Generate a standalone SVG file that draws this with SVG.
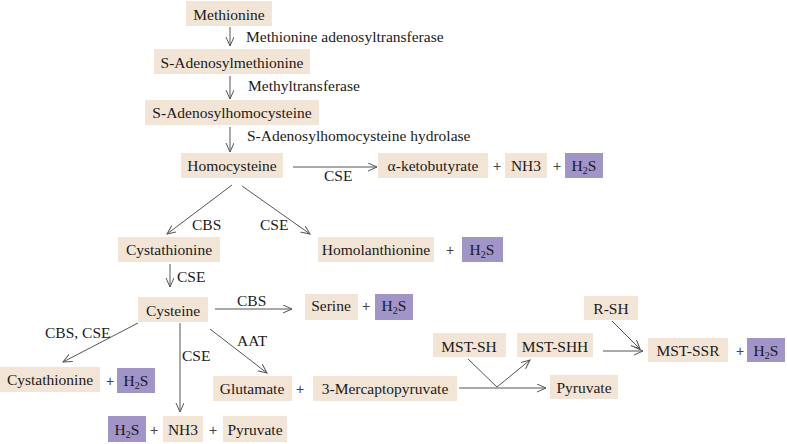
<svg xmlns="http://www.w3.org/2000/svg" width="787" height="444" viewBox="0 0 787 444" font-family="'Liberation Serif', 'Times New Roman', serif">
<defs>
<style>
.b{fill:#F2E5D6}
.p{fill:#A194C8}
text{font-family:'Liberation Serif','Times New Roman',serif;font-size:15.5px;fill:#1a1a1a}
.c{text-anchor:middle}
text.pl{font-family:'Liberation Sans',Arial,sans-serif;font-size:14px;text-anchor:middle;fill:#444}
.e{stroke:#555;stroke-width:1;fill:none;marker-end:url(#a)}
.n{stroke:#555;stroke-width:1;fill:none}
.s{font-size:10px}
</style>
<marker id="a" markerUnits="userSpaceOnUse" markerWidth="10" markerHeight="10" refX="9" refY="4" orient="auto">
<path d="M0,0 L9,4 L0,8" fill="none" stroke="#555" stroke-width="1"/>
</marker>
</defs>
<rect width="787" height="444" fill="#fff"/>

<g id="methionine"><rect class="b" x="186" y="1" width="86" height="25"/><text class="c" x="229" y="20">Methionine</text></g>
<g id="sam"><rect class="b" x="154" y="49" width="156" height="25"/><text class="c" x="232" y="68">S-Adenosylmethionine</text></g>
<g id="sah"><rect class="b" x="145" y="100" width="174" height="25"/><text class="c" x="232" y="118">S-Adenosylhomocysteine</text></g>
<g id="homocysteine"><rect class="b" x="181" y="153" width="102" height="25"/><text class="c" x="232" y="171">Homocysteine</text></g>
<g id="ketobutyrate"><rect class="b" x="378" y="153" width="110" height="25"/><text class="c" x="433" y="171">α-ketobutyrate</text></g>
<g id="nh3a"><rect class="b" x="505" y="153" width="42" height="25"/><text class="c" x="526" y="171">NH3</text></g>
<g id="h2sa"><rect class="p" x="565" y="153" width="38" height="25"/><text class="c" x="584" y="171">H<tspan class="s" dy="3">2</tspan><tspan dy="-3">S</tspan></text></g>

<g id="cystathionine1"><rect class="b" x="118" y="237" width="102" height="25"/><text class="c" x="169" y="255">Cystathionine</text></g>
<g id="homolanthionine"><rect class="b" x="318" y="237" width="116" height="25"/><text class="c" x="376" y="255">Homolanthionine</text></g>
<g id="h2sb"><rect class="p" x="462" y="237" width="41" height="25"/><text class="c" x="482" y="255">H<tspan class="s" dy="3">2</tspan><tspan dy="-3">S</tspan></text></g>

<g id="cysteine"><rect class="b" x="138" y="297" width="70" height="25"/><text class="c" x="173" y="316">Cysteine</text></g>
<g id="serine"><rect class="b" x="305" y="294" width="53" height="26"/><text class="c" x="331" y="311">Serine</text></g>
<g id="h2sc"><rect class="p" x="375" y="294" width="38" height="26"/><text class="c" x="394" y="311">H<tspan class="s" dy="3">2</tspan><tspan dy="-3">S</tspan></text></g>

<g id="cystathionine2"><rect class="b" x="0" y="367" width="100" height="25"/><text class="c" x="50" y="385">Cystathionine</text></g>
<g id="h2sd"><rect class="p" x="117" y="368" width="38" height="25"/><text class="c" x="136" y="386">H<tspan class="s" dy="3">2</tspan><tspan dy="-3">S</tspan></text></g>

<g id="h2se"><rect class="p" x="108" y="416" width="38" height="26"/><text class="c" x="127" y="435">H<tspan class="s" dy="3">2</tspan><tspan dy="-3">S</tspan></text></g>
<g id="nh3b"><rect class="b" x="163" y="416" width="40" height="26"/><text class="c" x="183" y="435">NH3</text></g>
<g id="pyruvate1"><rect class="b" x="223" y="416" width="64" height="26"/><text class="c" x="255" y="435">Pyruvate</text></g>

<g id="glutamate"><rect class="b" x="213" y="376" width="79" height="25"/><text class="c" x="252" y="394">Glutamate</text></g>
<g id="mercaptopyruvate"><rect class="b" x="313" y="376" width="144" height="25"/><text class="c" x="385" y="394">3-Mercaptopyruvate</text></g>

<g id="rsh"><rect class="b" x="584" y="296" width="54" height="24"/><text class="c" x="611" y="314">R-SH</text></g>
<g id="mstsh"><rect class="b" x="433" y="333" width="73" height="24"/><text class="c" x="469" y="352">MST-SH</text></g>
<g id="mstshh"><rect class="b" x="517" y="333" width="76" height="24"/><text class="c" x="555" y="352">MST-SHH</text></g>
<g id="mstssr"><rect class="b" x="648" y="338" width="80" height="24"/><text class="c" x="688" y="356">MST-SSR</text></g>
<g id="h2sf"><rect class="p" x="747" y="338" width="38" height="24"/><text class="c" x="766" y="356">H<tspan class="s" dy="3">2</tspan><tspan dy="-3">S</tspan></text></g>
<g id="pyruvate2"><rect class="b" x="550" y="375" width="68" height="24"/><text class="c" x="584" y="393">Pyruvate</text></g>

<g id="plus">
<text class="pl" x="497" y="171">+</text>
<text class="pl" x="557" y="171">+</text>
<text class="pl" x="450" y="255">+</text>
<text class="pl" x="366" y="311">+</text>
<text class="pl" x="110" y="386">+</text>
<text class="pl" x="154" y="435">+</text>
<text class="pl" x="213" y="435">+</text>
<text class="pl" x="300" y="394">+</text>
<text class="pl" x="740" y="356">+</text>
</g>

<g id="connectors">
<path class="e" d="M230,27 V46"/>
<path class="e" d="M230,76 V99"/>
<path class="e" d="M230,127 V152"/>
<path class="e" d="M293,167 H377"/>
<path class="e" d="M232,185 L167,234"/>
<path class="e" d="M242,186 L310,234"/>
<path class="e" d="M170,264 V287"/>
<path class="e" d="M215,309 H292"/>
<path class="e" d="M138,323 L63,362"/>
<path class="e" d="M180,323 V412"/>
<path class="e" d="M210,329 L267,373"/>
<path class="e" d="M459,388 H546"/>
<path class="n" d="M468,359 L497,387"/>
<path class="e" d="M497,387 L530,360"/>
<path class="e" d="M603,351 H643"/>
<path class="e" d="M612,321 L640,349"/>
</g>

<g id="labels" style="white-space:pre">
<text x="246" y="42">Methionine  adenosyltransferase</text>
<text x="248" y="91">Methyltransferase</text>
<text x="247" y="141">S-Adenosylhomocysteine hydrolase</text>
<text x="324" y="181">CSE</text>
<text x="192" y="230">CBS</text>
<text x="260" y="230">CSE</text>
<text x="177" y="282">CSE</text>
<text x="237" y="306">CBS</text>
<text x="45" y="338">CBS, CSE</text>
<text x="182" y="361">CSE</text>
<text x="237" y="346">AAT</text>
</g>
</svg>
